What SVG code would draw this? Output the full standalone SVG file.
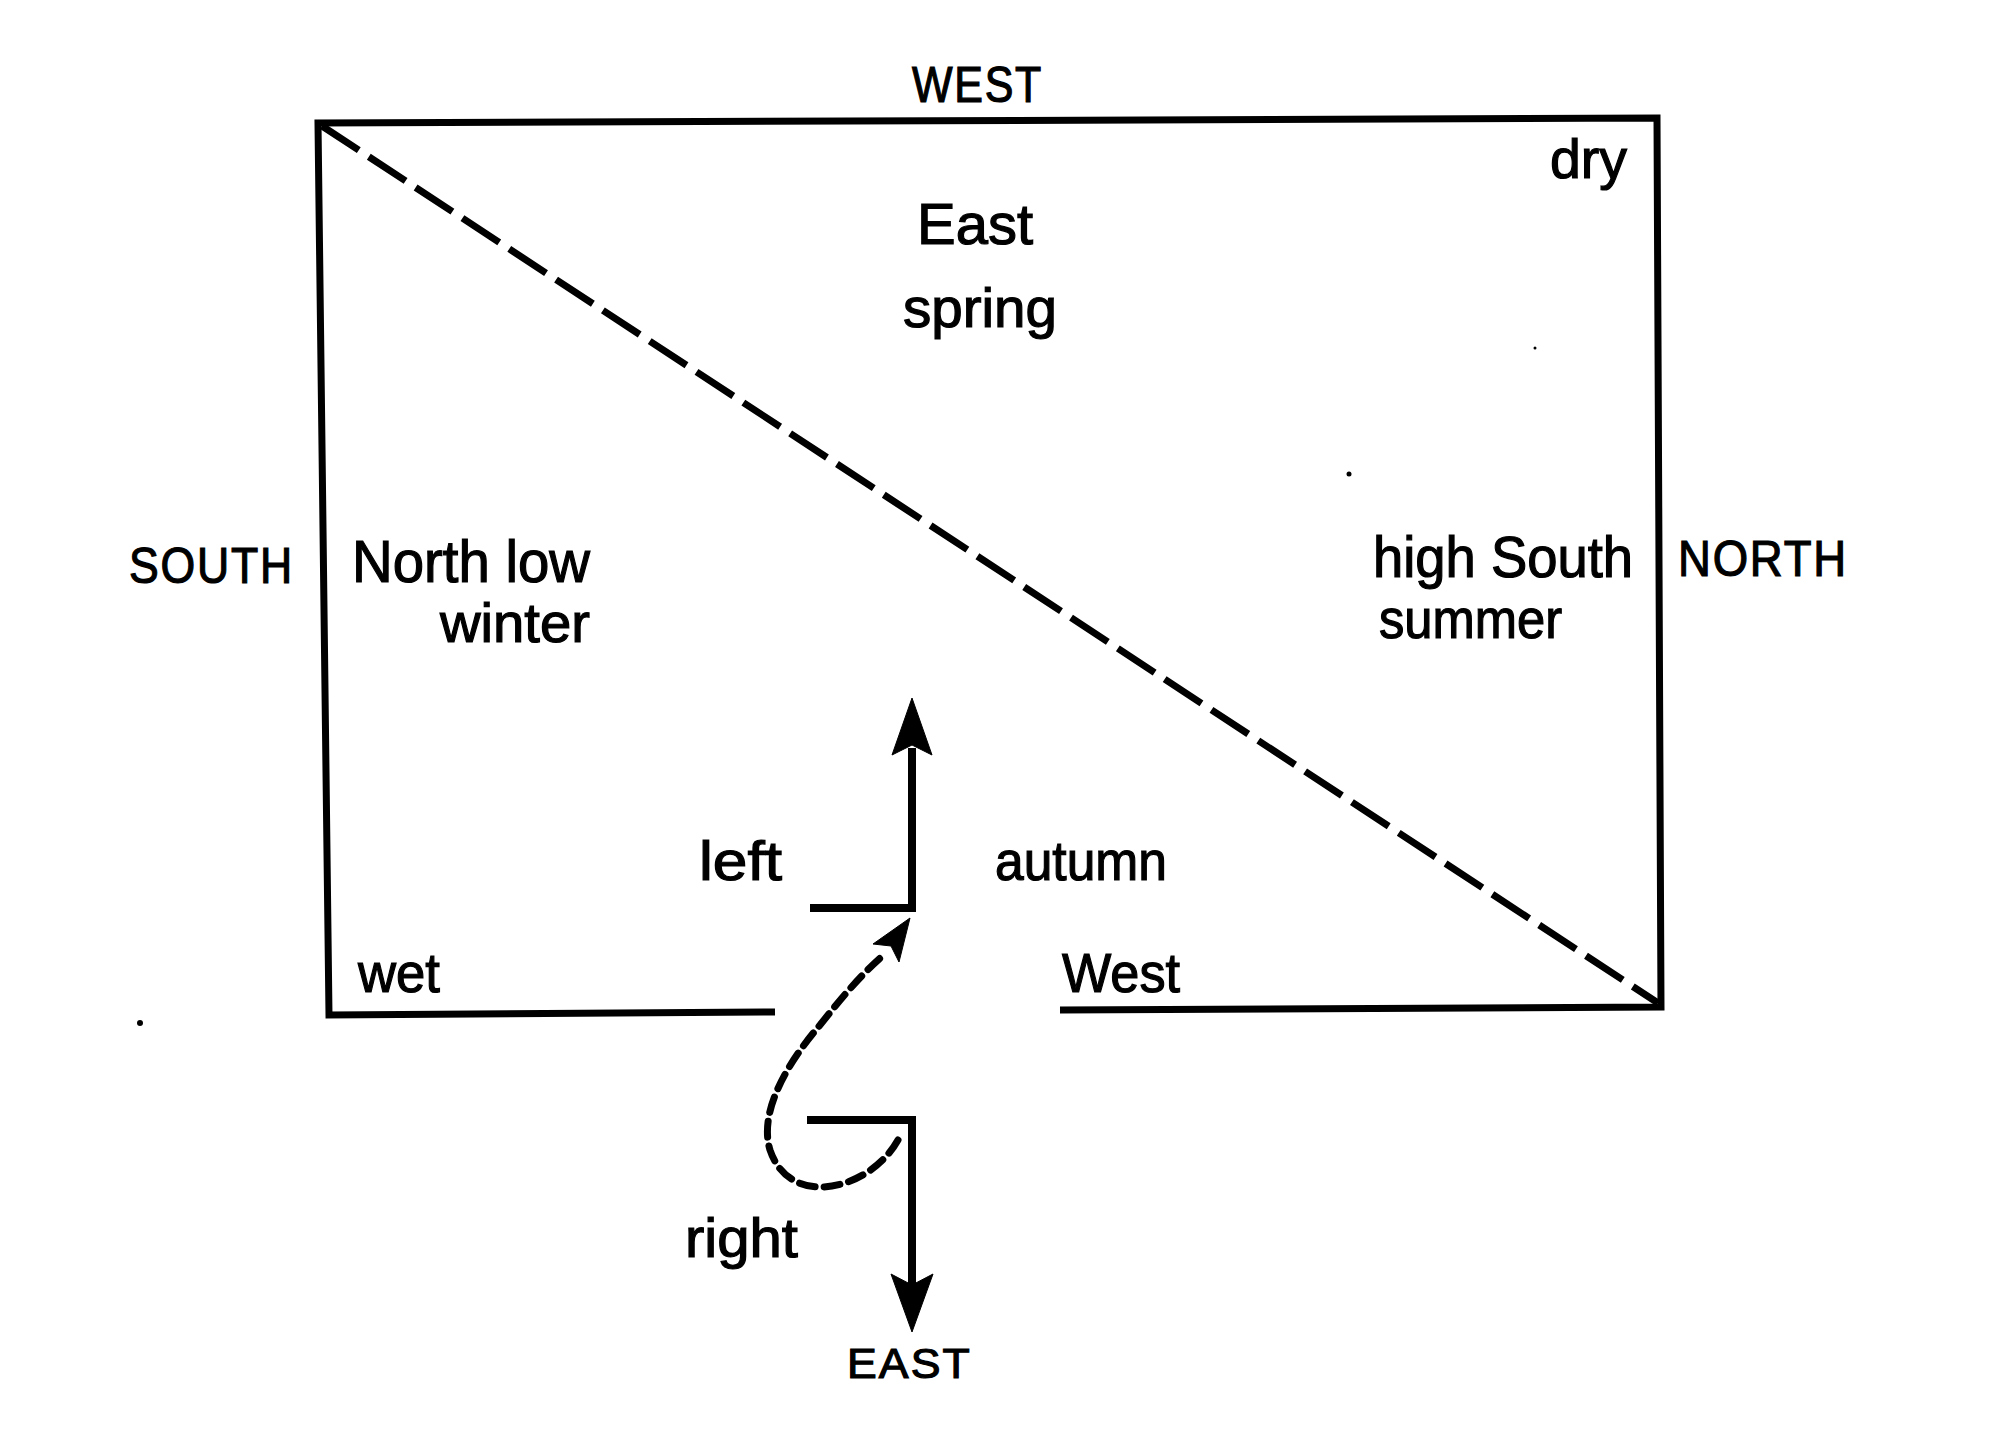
<svg xmlns="http://www.w3.org/2000/svg" width="2000" height="1431" viewBox="0 0 2000 1431">
<style>
  .lbl { font-family: "Liberation Sans", Arial, sans-serif; fill: #000; stroke: #000; stroke-width: 1.2; }
  .lc { font-size: 56px; }
  .uc { font-size: 50px; letter-spacing: 2px; }
  .frame { fill: none; stroke: #000; stroke-width: 7; stroke-linejoin: miter; }
  .dash { fill: none; stroke: #000; stroke-width: 7; stroke-dasharray: 44 12; }
  .curve { fill: none; stroke: #000; stroke-width: 7; stroke-dasharray: 16 9; stroke-linecap: round; }
  .solid { fill: none; stroke: #000; stroke-width: 8; }
  .head { fill: #000; stroke: #000; stroke-width: 1; }
</style>
<rect x="0" y="0" width="2000" height="1431" fill="#fff"/>

<g id="frame">
  <path class="frame" d="M775,1012 L329,1015 L318,123 L1657,118 L1661,1007 L1060,1010"/>
</g>

<g id="connectors">
  <path id="diagonal" class="dash" d="M322,126 L1658,1003"/>
  <path id="up-arrow" class="solid" d="M810,908 L912,908 L912,748"/>
  <polygon class="head" points="912,698 932,755 912,745 892,755"/>
  <path id="down-arrow" class="solid" d="M807,1120 L912,1120 L912,1300"/>
  <polygon class="head" points="912,1332 933,1274 912,1285 891,1274"/>
  <path id="loop" class="curve" d="M898,1140 C870,1190 790,1210 770,1150 C758,1110 790,1060 820,1025 C840,1000 860,975 886,953"/>
  <polygon class="head" points="910,918 899,962 891,946 873,944"/>
</g>

<g id="label-west-top"><text class="lbl uc" x="912" y="102" textLength="131" lengthAdjust="spacingAndGlyphs">WEST</text></g>
<g id="label-dry"><text class="lbl lc" x="1550" y="178" textLength="77" lengthAdjust="spacingAndGlyphs">dry</text></g>
<g id="label-east-spring">
  <text class="lbl" style="font-size:58px" x="917" y="244" textLength="116" lengthAdjust="spacingAndGlyphs">East</text>
  <text class="lbl lc" x="903" y="327" textLength="154" lengthAdjust="spacingAndGlyphs">spring</text>
</g>
<g id="label-south"><text class="lbl uc" x="129" y="583" textLength="165" lengthAdjust="spacingAndGlyphs">SOUTH</text></g>
<g id="label-north-low-winter">
  <text class="lbl" style="font-size:60px" x="352" y="582" textLength="238" lengthAdjust="spacingAndGlyphs">North low</text>
  <text class="lbl lc" x="440" y="642" textLength="150" lengthAdjust="spacingAndGlyphs">winter</text>
</g>
<g id="label-high-south-summer">
  <text class="lbl" style="font-size:58px" x="1373" y="577" textLength="260" lengthAdjust="spacingAndGlyphs">high South</text>
  <text class="lbl lc" x="1379" y="638" textLength="183" lengthAdjust="spacingAndGlyphs">summer</text>
</g>
<g id="label-north"><text class="lbl uc" x="1678" y="576" textLength="170" lengthAdjust="spacingAndGlyphs">NORTH</text></g>
<g id="label-left"><text class="lbl lc" x="699" y="880" textLength="83" lengthAdjust="spacingAndGlyphs">left</text></g>
<g id="label-autumn"><text class="lbl lc" x="995" y="880" textLength="172" lengthAdjust="spacingAndGlyphs">autumn</text></g>
<g id="label-wet"><text class="lbl lc" x="358" y="992" textLength="82" lengthAdjust="spacingAndGlyphs">wet</text></g>
<g id="label-west-bottom"><text class="lbl lc" x="1062" y="992" textLength="118" lengthAdjust="spacingAndGlyphs">West</text></g>
<g id="label-right"><text class="lbl lc" x="685" y="1257" textLength="113" lengthAdjust="spacingAndGlyphs">right</text></g>
<g id="label-east-bottom"><text class="lbl uc" style="font-size:42px" x="847" y="1378" textLength="125" lengthAdjust="spacingAndGlyphs">EAST</text></g>

<g id="specks">
  <circle cx="140" cy="1023" r="3" fill="#000"/>
  <circle cx="1535" cy="348" r="1.5" fill="#000"/>
  <circle cx="1349" cy="474" r="2.5" fill="#000"/>
</g>
</svg>
